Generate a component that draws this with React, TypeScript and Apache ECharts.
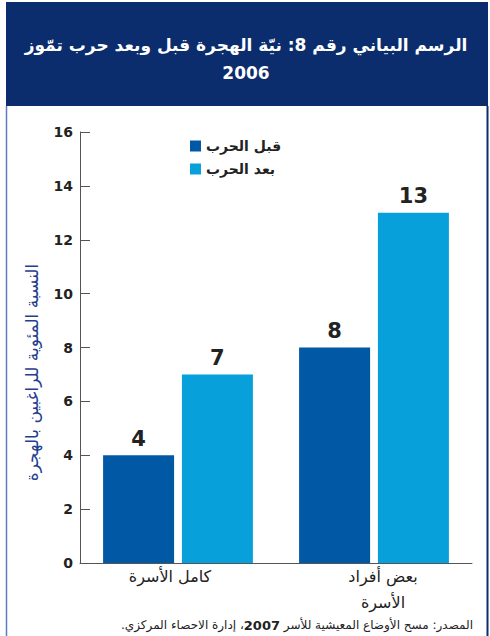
import React, { useEffect, useRef } from "react";
import * as echarts from "echarts";

const categories = ["كامل الأسرة", "بعض أفراد\nالأسرة"];
const seriesNames = ["قبل الحرب", "بعد الحرب"];
const beforeWar = [4, 8];
const afterWar = [7, 13];
const yTicks = { min: 0, max: 16, interval: 2 };
const titleText = "الرسم البياني رقم 8: نيّة الهجرة قبل وبعد حرب تمّوز\n2006";
const yAxisName = "النسبة المئوية للراغبين بالهجرة";
const sourcePrefix = "المصدر: مسح الأوضاع المعيشية للأسر";
const sourceYear = "2007";
const sourceSuffix = "، إدارة الاحصاء المركزي.";

const FONT = "DejaVu Sans";
const RLM = "\u200F";

export default function App() {
  const ref = useRef<HTMLDivElement>(null);
  useEffect(() => {
    if (!ref.current) return;
    const chart = echarts.init(ref.current, undefined, { renderer: "svg" });
    const labelStyle = {
      show: true,
      position: "top",
      distance: 6,
      fontFamily: FONT,
      fontSize: 21,
      fontWeight: "bold",
      color: "#222",
    };
    const labelPads = [
      [0, 16, 0, 0],
      [0, 0, 0, 18],
    ];
    chart.setOption({
      animation: false,
      backgroundColor: "#ffffff",
      grid: { left: 80, right: 18, top: 132, bottom: 73 },
      legend: {
        orient: "vertical",
        left: 185,
        top: 134,
        itemWidth: 11,
        itemHeight: 11,
        itemGap: 9,
        icon: "rect",
        textStyle: { fontFamily: FONT, fontSize: 14, color: "#222", fontWeight: "bold" },
        data: seriesNames,
      },
      xAxis: {
        type: "category",
        data: categories.map((c, i) => ({ value: c, textStyle: { padding: labelPads[i] } })),
        axisLine: { lineStyle: { color: "#555", width: 1 } },
        axisTick: { inside: true, length: 11, lineStyle: { color: "#555" } },
        axisLabel: {
          fontFamily: FONT,
          fontSize: 16,
          color: "#222",
          lineHeight: 26,
          margin: 0,
        },
      },
      yAxis: {
        type: "value",
        min: yTicks.min,
        max: yTicks.max,
        interval: yTicks.interval,
        name: yAxisName,
        nameLocation: "middle",
        nameGap: 40,
        nameRotate: 90,
        nameTextStyle: { fontFamily: FONT, fontSize: 17, color: "#1f3f8f", padding: [0, 0, 0, -50] },
        axisLine: { show: true, lineStyle: { color: "#555", width: 1 } },
        axisTick: { show: true, inside: true, length: 10, lineStyle: { color: "#555" } },
        axisLabel: { fontFamily: FONT, fontSize: 14, fontWeight: "bold", color: "#222", margin: 7 },
        splitLine: { show: false },
      },
      series: [
        {
          name: seriesNames[0],
          type: "bar",
          data: beforeWar,
          barWidth: 71,
          barGap: "11%",
          itemStyle: { color: "#0158a5" },
          label: labelStyle,
        },
        {
          name: seriesNames[1],
          type: "bar",
          data: afterWar,
          barWidth: 71,
          barGap: "11%",
          itemStyle: { color: "#07a0db" },
          label: labelStyle,
        },
      ],
      graphic: [
        {
          type: "rect",
          z: -1,
          shape: { x: 6, y: 2, width: 482, height: 104 },
          style: { fill: "#0b2c6d" },
        },
        {
          type: "line",
          shape: { x1: 6.5, y1: 106, x2: 6.5, y2: 636 },
          style: { stroke: "#5b7cc0", lineWidth: 1.5 },
        },
        {
          type: "line",
          shape: { x1: 487.5, y1: 106, x2: 487.5, y2: 636 },
          style: { stroke: "#0b2c6d", lineWidth: 2 },
        },
        {
          type: "text",
          x: 246,
          y: 59,
          style: {
            text: titleText,
            fill: "#ffffff",
            fontFamily: FONT,
            fontSize: 17,
            fontWeight: "bold",
            lineHeight: 28,
            align: "center",
            verticalAlign: "middle",
          },
        },
        {
          type: "text",
          x: 473,
          y: 625,
          style: {
            text:
              "{a|" + RLM + sourceSuffix + RLM + "}{b|" + sourceYear + "}{a|" + RLM + sourcePrefix + "\u00A0" + RLM + "}",
            align: "right",
            verticalAlign: "middle",
            rich: {
              a: { fontFamily: FONT, fontSize: 12, fill: "#222", color: "#222" },
              b: { fontFamily: FONT, fontSize: 13, fontWeight: "bold", fill: "#222", color: "#222" },
            },
          },
        },
      ],
    });
    return () => chart.dispose();
  }, []);
  return (
    <div
      ref={ref}
      style={{ position: "absolute", left: 0, top: 0, width: 490, height: 636 }}
    />
  );
}
